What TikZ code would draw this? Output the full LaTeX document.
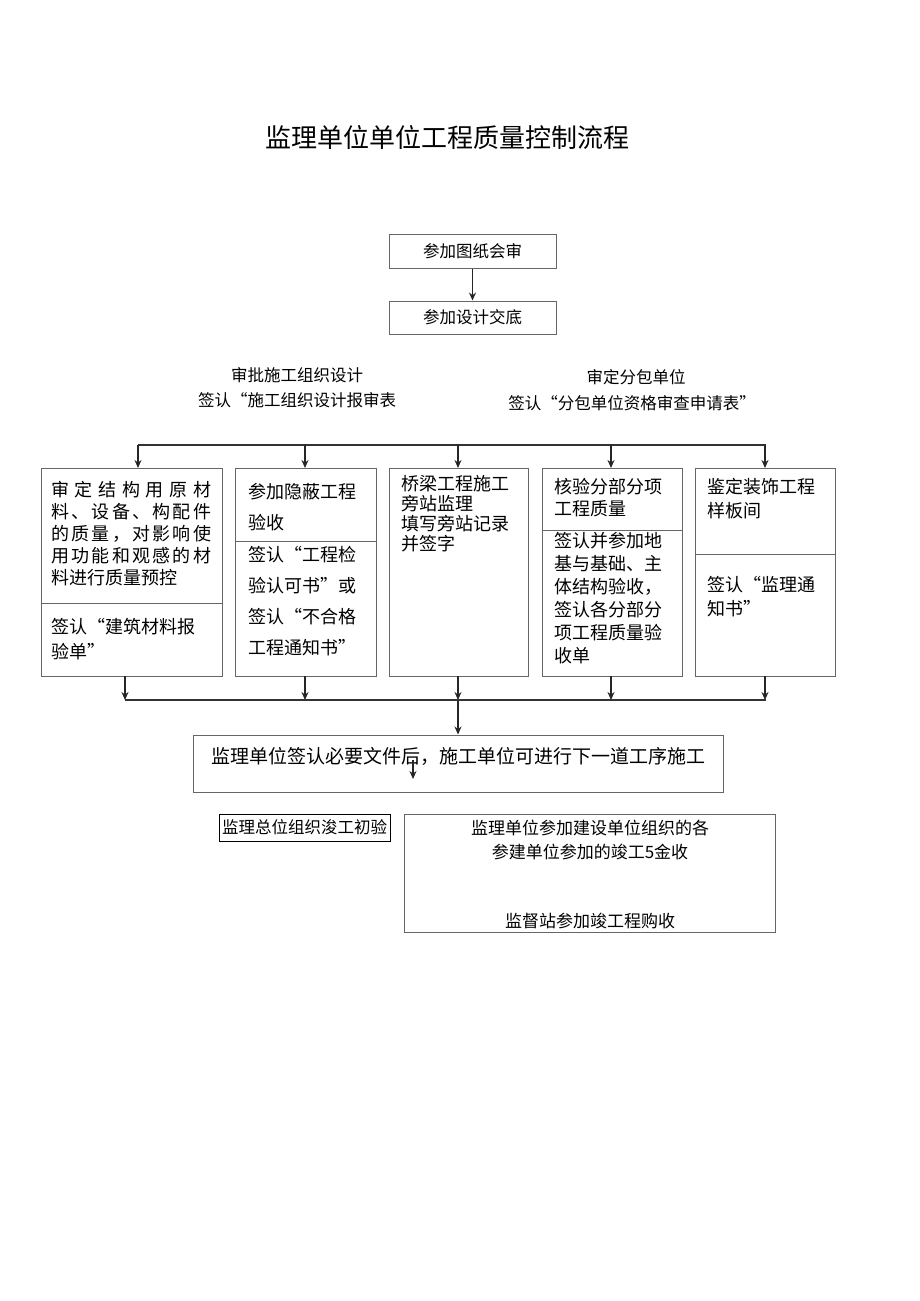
\documentclass[tikz,border=0pt]{standalone}
\usepackage{fontspec}
\setmainfont{Noto Sans CJK SC}
\usetikzlibrary{arrows.meta}
\begin{document}
\begin{tikzpicture}[x=1pt,y=-1pt,
  bx/.style={draw=black!60,line width=1pt},
  ln/.style={draw=black!80,line width=1.8pt},
  ar/.style={draw=black!85,line width=1.5pt,-{Stealth[length=8pt,width=7pt]}},
  tx/.style={font=\fontsize{18}{23}\selectfont,align=left,anchor=north west,inner sep=0pt},
  lb/.style={font=\fontsize{16.5}{20}\selectfont,inner sep=0pt}]
\useasboundingbox (0,0) rectangle (920,1301);
\node[font=\fontsize{26}{30}\selectfont] (title) at (447,138) {监理单位单位工程质量控制流程};
\node[bx,minimum width=167pt,minimum height=34pt,lb] (t1) at (472.5,251) {参加图纸会审};
\node[bx,minimum width=167pt,minimum height=33pt,lb] (t2) at (472.5,317.5) {参加设计交底};
\draw[ar] (t1.south) -- (t2.north);
\node[lb] (l1) at (297,375) {审批施工组织设计};
\node[lb] (l2) at (297,400) {签认“施工组织设计报审表};
\node[lb] (r1) at (636,377) {审定分包单位};
\node[lb] (r2) at (632,403) {签认“分包单位资格审查申请表”};
% boxes
\draw[bx] (41,468) rectangle (222,676); \draw[bx] (41,603) -- (222,603);
\draw[bx] (235,468) rectangle (376,676); \draw[bx] (235,541) -- (376,541);
\draw[bx] (389,468) rectangle (528,676);
\draw[bx] (542,468) rectangle (682,676); \draw[bx] (542,530) -- (682,530);
\draw[bx] (695,468) rectangle (835,676); \draw[bx] (695,554) -- (835,554);
\draw[ln] (138,445) -- (766,445);
\foreach \x in {138,305,458,611,765} \draw[ar] (\x,445) -- (\x,468);
\node[tx,text width=162pt,font=\fontsize{18}{22}\selectfont] (c1) at (51,481) {%
\leavevmode\hbox to 160pt{审\hfill 定\hfill 结\hfill 构\hfill 用\hfill 原\hfill 材}\\
\leavevmode\hbox to 160pt{料\hfill 、\hfill 设\hfill 备\hfill 、\hfill 构\hfill 配\hfill 件}\\
\leavevmode\hbox to 160pt{的\hfill 质\hfill 量\hfill ，\hfill 对\hfill 影\hfill 响\hfill 使}\\
\leavevmode\hbox to 160pt{用\hfill 功\hfill 能\hfill 和\hfill 观\hfill 感\hfill 的\hfill 材}\\
料进行质量预控};
\node[tx,font=\fontsize{18}{25}\selectfont] (c1b) at (51,618) {签认“建筑材料报\\验单”};
\node[tx,font=\fontsize{18}{31}\selectfont] (c2) at (248,483) {参加隐蔽工程\\验收};
\node[tx,font=\fontsize{18}{31}\selectfont] (c2b) at (248,546) {签认“工程检\\验认可书”或\\签认“不合格\\工程通知书”};
\node[tx,font=\fontsize{18}{20}\selectfont] (c3) at (401,475) {桥梁工程施工\\旁站监理\\填写旁站记录\\并签字};
\node[tx,font=\fontsize{18}{22}\selectfont] (c4) at (554,478) {核验分部分项\\工程质量};
\node[tx,font=\fontsize{18}{23}\selectfont] (c4b) at (554,532) {签认并参加地\\基与基础、主\\体结构验收，\\签认各分部分\\项工程质量验\\收单};
\node[tx,font=\fontsize{18}{24}\selectfont] (c5) at (707,478) {鉴定装饰工程\\样板间};
\node[tx,font=\fontsize{18}{24}\selectfont] (c5b) at (707,576) {签认“监理通\\知书”};
% bottom
\foreach \x in {125,305,458,611,765} \draw[ar] (\x,676) -- (\x,700);
\draw[ln] (125,700) -- (766,700);
\node[bx,minimum width=530pt,minimum height=57pt,inner sep=0pt] (m) at (458,763.5) {};
\draw[ar] (458,701) -- (m.north);
\node[inner sep=0pt,font=\fontsize{19}{22}\selectfont] (mt) at (458,756) {监理单位签认必要文件后，施工单位可进行下一道工序施工};
\draw[ar] (413,760) -- (413,779);
\node[bx,draw=black,minimum width=171pt,minimum height=27pt,inner sep=0pt,lb] (s) at (304.5,827.5) {监理总位组织浚工初验};
\node[bx,minimum width=371pt,minimum height=118pt,inner sep=0pt] (big) at (589.5,873) {};
\node[lb,font=\fontsize{17}{20}\selectfont] (g1) at (590,828) {监理单位参加建设单位组织的各};
\node[lb,font=\fontsize{17}{20}\selectfont] (g2) at (590,852) {参建单位参加的竣工5金收};
\node[lb,font=\fontsize{17}{20}\selectfont] (g3) at (590,921) {监督站参加竣工程购收};
\end{tikzpicture}
\end{document}
